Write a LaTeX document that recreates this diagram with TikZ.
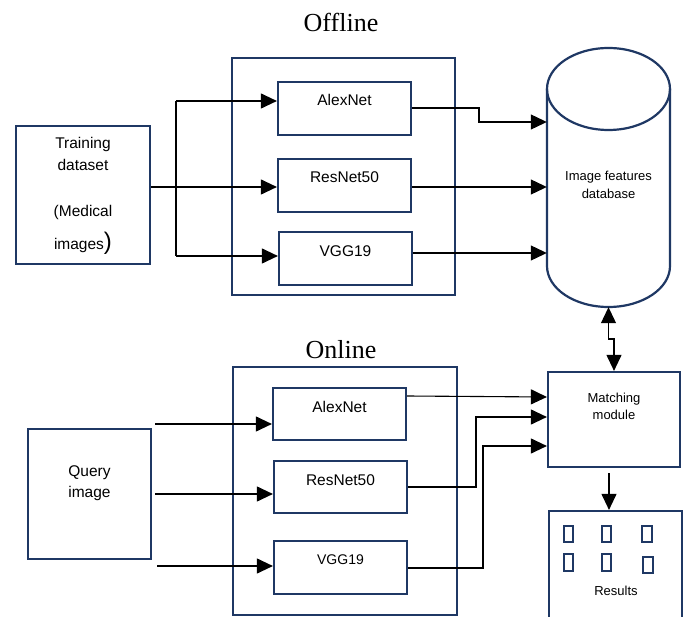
\documentclass[tikz,border=0pt]{standalone}
\usepackage{fontspec}
\setmainfont{Liberation Sans}
\newfontfamily\serifface{Liberation Serif}
\usetikzlibrary{arrows.meta,calc}
\definecolor{navy}{RGB}{31,56,100}
\begin{document}
\begin{tikzpicture}[x=1pt,y=-1pt,
  boxed/.style={draw=navy,line width=2.2pt,inner sep=0pt,fill=none},
  lbl/.style={anchor=base,inner sep=0pt,font=\fontsize{15.5}{18}\selectfont},
  slbl/.style={anchor=base,inner sep=0pt,font=\fontsize{13}{16}\selectfont},
  ttl/.style={anchor=base,inner sep=0pt,font=\serifface\fontsize{26}{30}\selectfont},
  conn/.style={line width=1.1pt,black},
  arr/.style={conn,-{Triangle[length=16pt,width=15pt]}},
  darr/.style={conn,{Triangle[length=16pt,width=15pt]}-{Triangle[length=16pt,width=15pt]}},
  sq/.style={draw=navy,line width=2.4pt}]
\useasboundingbox (0,0) rectangle (688,617);
\clip (0,0) rectangle (688,617);
\fill[white] (0,0) rectangle (688,617);

% ---------- Offline ----------
\node[ttl] (toff) at (341,31.5) {Offline};
\node[boxed,minimum width=223,minimum height=237] (offbox) at (343.5,176.5) {};
\node[boxed,minimum width=133,minimum height=53] (aoff) at (344.5,108.5) {};
\node[boxed,minimum width=133,minimum height=53] (roff) at (344.5,185.5) {};
\node[boxed,minimum width=133,minimum height=53] (voff) at (345.5,258.5) {};
\node[lbl] at (344.5,106) {AlexNet};
\node[lbl] at (344.5,182.5) {ResNet50};
\node[lbl] at (345.5,256.5) {VGG19};

\node[boxed,minimum width=134,minimum height=138] (train) at (83,195) {};
\node[lbl] at (83,149) {Training};
\node[lbl] at (83,170.7) {dataset};
\node[lbl] at (83,216.7) {(Medical};
\node[lbl] at (83,250) {images\fontsize{24}{26}\selectfont)};

% database cylinder
\node[inner sep=0pt,minimum width=123,minimum height=259] (db) at (608.5,177.5) {};
\draw[navy,line width=2.2pt] (547,89) -- (547,266)
  arc[start angle=180,end angle=360,x radius=61.5pt,y radius=41pt]
  -- (670,89);
\draw[navy,line width=2.2pt] (608.5,89) ellipse[x radius=61.5pt,y radius=41pt];
\node[slbl] at (608.5,180.7) {Image features};
\node[slbl] at (608.5,199) {database};

% offline connectors
\coordinate (split) at (176,187);
\coordinate (stop) at (176,101);
\coordinate (sbot) at (176,256);
\draw[conn] (train.east |- 0,187) -- (split);
\draw[conn] (stop) -- (sbot);
\draw[arr] (stop) -- (aoff.west |- 0,101);
\draw[arr] (split) -- (roff.west |- 0,187);
\draw[arr] (sbot) -- (voff.west |- 0,256);
\draw[arr] (aoff.east |- 0,108) -- (479,108) -- (479,122) -- (db.west |- 0,122);
\draw[arr] (roff.east |- 0,187) -- (db.west |- 0,187);
\draw[arr] (voff.east |- 0,253) -- (db.west |- 0,253);

% ---------- Online ----------
\node[ttl] (ton) at (341,358.3) {Online};
\node[boxed,minimum width=224,minimum height=248] (onbox) at (345,491) {};
\node[boxed,minimum width=133,minimum height=52] (aon) at (339.5,414) {};
\node[boxed,minimum width=133,minimum height=52] (ron) at (340.5,487) {};
\node[boxed,minimum width=133,minimum height=53] (von) at (340.5,567.5) {};
\node[lbl] at (339.5,412.5) {AlexNet};
\node[lbl] at (340.5,485.5) {ResNet50};
\node[anchor=base,inner sep=0pt,font=\fontsize{14}{16}\selectfont] at (340.5,564) {VGG19};

\node[boxed,minimum width=123,minimum height=130] (query) at (89.5,494) {};
\node[lbl] at (89.5,476) {Query};
\node[lbl] at (89.5,497) {image};

\node[boxed,minimum width=132,minimum height=95] (match) at (614,419.5) {};
\node[slbl] at (614,402.5) {Matching};
\node[slbl] at (614,420) {module};

\node[boxed,minimum width=133,minimum height=118] (res) at (615.5,570) {};
\draw[sq] (564,526) rectangle (573,542);
\draw[sq] (602,526) rectangle (611,542);
\draw[sq] (642,526) rectangle (652,542);
\draw[sq] (564,554) rectangle (573,571);
\draw[sq] (602,554) rectangle (611,571);
\draw[sq] (643,557) rectangle (653,573);
\node[slbl] at (616,595.7) {Results};

% online connectors
\coordinate (q1) at (155,424);
\coordinate (q2) at (155,494);
\coordinate (q3) at (157,566);
\draw[arr] (q1) -- (aon.west |- 0,424);
\draw[arr] (q2) -- (ron.west |- 0,494);
\draw[arr] (q3) -- (von.west |- 0,566);
\draw[arr] (aon.east |- 0,396) -- (match.west |- 0,397);
\draw[arr] (ron.east |- 0,487) -| (476,417) -- (match.west |- 0,417);
\draw[arr] (von.east |- 0,568) -| (483,446) -- (match.west |- 0,446);

\draw[darr] (db.south) -- (608.5,339) -| (match.north);
\coordinate (mout) at (609,473);
\draw[arr] (mout) -- (res.north -| 609,0);
\end{tikzpicture}
\end{document}
